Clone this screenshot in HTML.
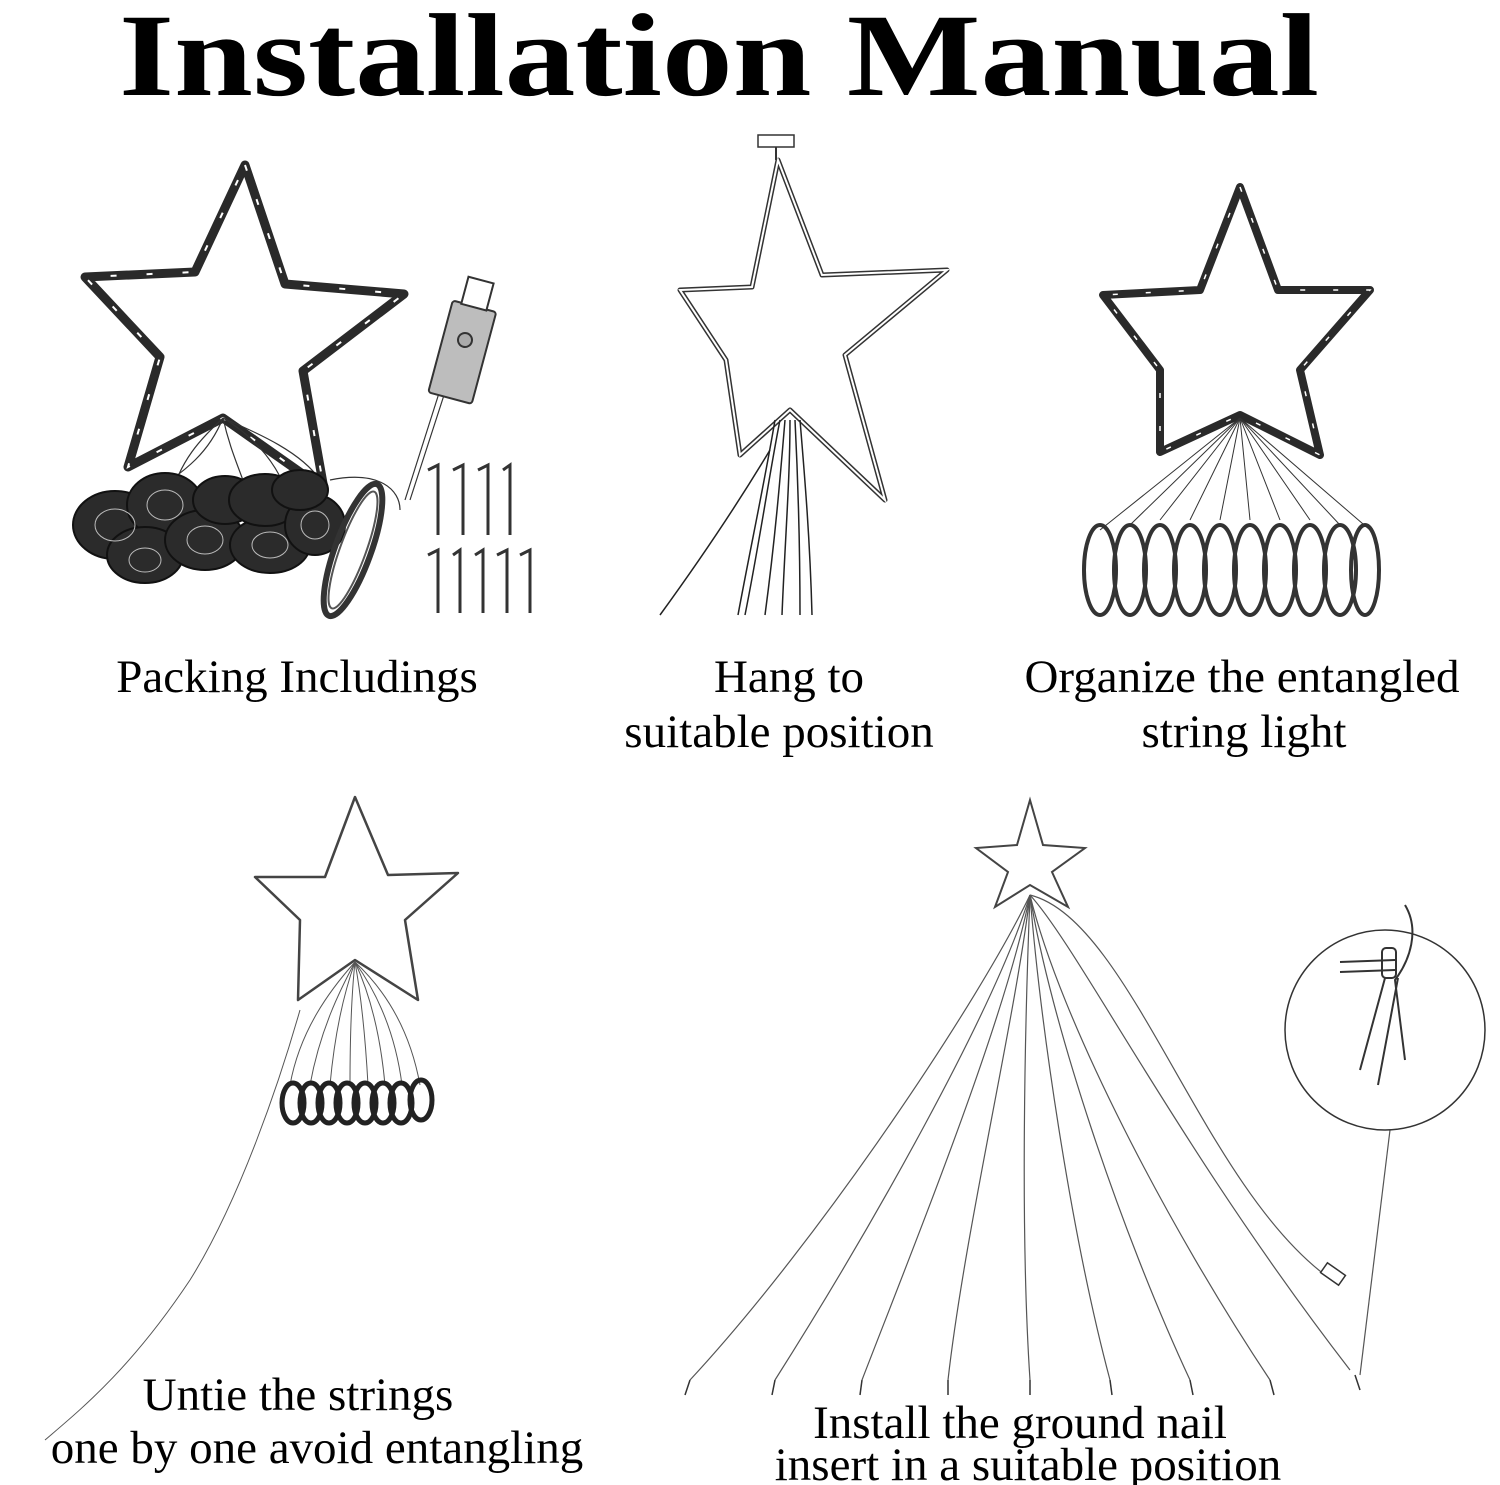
<!DOCTYPE html>
<html><head><meta charset="utf-8"><style>
html,body{margin:0;padding:0;background:#fff}
svg{display:block}
.t{font-family:"Liberation Serif",serif;fill:#000}
</style></head><body>
<svg width="1500" height="1485" viewBox="0 0 1500 1485" xmlns="http://www.w3.org/2000/svg">
<text class="t" x="719" y="95" font-size="118" font-weight="bold" text-anchor="middle" textLength="1200" lengthAdjust="spacingAndGlyphs">Installation Manual</text>

<!-- Star 1 -->
<polygon points="245,165 285,284 404,294 303,371 324,489 223,418 128,467 160,357 85,277 195,272" fill="none" stroke="#2a2a2a" stroke-width="9" stroke-linejoin="round"/>
<polygon points="245,165 285,284 404,294 303,371 324,489 223,418 128,467 160,357 85,277 195,272" fill="none" stroke="#fff" stroke-width="2" stroke-dasharray="6 30"/>
<g fill="none" stroke="#333" stroke-width="1.2">
<path d="M223,418 C200,440 180,460 170,500"/><path d="M223,418 C230,450 240,470 250,500"/><path d="M223,418 C260,440 280,470 290,500"/><path d="M223,418 C210,450 190,470 140,500"/><path d="M223,418 C250,430 300,450 320,480"/>
<path d="M330,480 C380,470 400,490 400,510"/>
<path d="M405,500 L440,390"/><path d="M410,500 L445,392"/>
</g>
<g fill="#2b2b2b" stroke="#111" stroke-width="2">
<ellipse cx="115" cy="525" rx="42" ry="34"/>
<ellipse cx="165" cy="505" rx="38" ry="32"/>
<ellipse cx="145" cy="555" rx="38" ry="28"/>
<ellipse cx="205" cy="540" rx="40" ry="30"/>
<ellipse cx="225" cy="500" rx="32" ry="24"/>
<ellipse cx="270" cy="545" rx="40" ry="28"/>
<ellipse cx="265" cy="500" rx="36" ry="26"/>
<ellipse cx="315" cy="525" rx="30" ry="30"/>
<ellipse cx="300" cy="490" rx="28" ry="20"/>
</g>
<g fill="none" stroke="#bbb" stroke-width="1">
<ellipse cx="115" cy="525" rx="20" ry="16"/><ellipse cx="165" cy="505" rx="18" ry="15"/><ellipse cx="205" cy="540" rx="18" ry="14"/><ellipse cx="270" cy="545" rx="18" ry="13"/><ellipse cx="315" cy="525" rx="14" ry="14"/><ellipse cx="145" cy="560" rx="16" ry="12"/>
</g>
<ellipse cx="353" cy="550" rx="18" ry="70" transform="rotate(20 353 550)" fill="none" stroke="#333" stroke-width="6"/>
<ellipse cx="353" cy="550" rx="13" ry="62" transform="rotate(20 353 550)" fill="none" stroke="#555" stroke-width="2"/>
<g transform="rotate(15 465 340)">
<rect x="443" y="305" width="45" height="95" rx="3" fill="#bdbdbd" stroke="#333" stroke-width="2"/>
<rect x="452" y="278" width="26" height="28" fill="#fff" stroke="#333" stroke-width="2"/>
<circle cx="465" cy="340" r="7" fill="#aaa" stroke="#333" stroke-width="2"/>
</g>
<g fill="none" stroke="#333" stroke-width="3">
<path d="M428,470 L438,465 L438,535"/><path d="M453,470 L463,465 L463,535"/><path d="M478,470 L488,465 L488,535"/><path d="M503,470 L510,465 L510,535"/>
<path d="M428,555 L438,550 L438,613"/><path d="M453,555 L460,550 L460,613"/><path d="M475,555 L483,550 L483,613"/><path d="M497,555 L507,550 L507,613"/><path d="M520,555 L530,550 L530,613"/>
</g>

<!-- Star 2 -->
<rect x="758" y="135" width="36" height="12" fill="#fff" stroke="#333" stroke-width="1.5"/>
<path d="M776,147 L776,160" stroke="#333" stroke-width="2"/>
<polygon points="778,160 822,275 947,270 845,355 885,500 790,410 740,455 726,360 680,290 752,287" fill="none" stroke="#333" stroke-width="5" stroke-linejoin="round"/>
<polygon points="778,160 822,275 947,270 845,355 885,500 790,410 740,455 726,360 680,290 752,287" fill="none" stroke="#fff" stroke-width="2"/>
<g fill="none" stroke="#222" stroke-width="1.5">
<path d="M780,420 C770,470 760,540 745,615"/><path d="M785,420 C780,480 775,540 765,615"/><path d="M790,420 C790,480 785,540 782,615"/><path d="M795,420 C798,480 800,540 800,615"/><path d="M800,420 C805,480 810,540 812,615"/><path d="M775,420 C765,480 750,550 738,615"/><path d="M770,450 C740,500 700,560 660,615"/>
</g>

<!-- Star 3 -->
<polygon points="1240,187 1278,290 1370,290 1300,370 1320,455 1240,415 1160,452 1160,370 1103,295 1200,290" fill="none" stroke="#2a2a2a" stroke-width="8" stroke-linejoin="round"/>
<polygon points="1240,187 1278,290 1370,290 1300,370 1320,455 1240,415 1160,452 1160,370 1103,295 1200,290" fill="none" stroke="#fff" stroke-width="1.5" stroke-dasharray="5 28"/>
<g fill="none" stroke="#333" stroke-width="1">
<path d="M1240,418 L1100,530"/><path d="M1240,418 L1130,525"/><path d="M1240,418 L1160,520"/><path d="M1240,418 L1190,520"/><path d="M1240,418 L1220,520"/><path d="M1240,418 L1250,520"/><path d="M1240,418 L1280,520"/><path d="M1240,418 L1310,520"/><path d="M1240,418 L1340,525"/><path d="M1240,418 L1370,530"/>
</g>
<g fill="none" stroke="#333" stroke-width="4">
<ellipse cx="1100" cy="570" rx="16" ry="45"/><ellipse cx="1130" cy="570" rx="16" ry="45"/><ellipse cx="1160" cy="570" rx="16" ry="45"/><ellipse cx="1190" cy="570" rx="16" ry="45"/><ellipse cx="1220" cy="570" rx="16" ry="45"/><ellipse cx="1250" cy="570" rx="16" ry="45"/><ellipse cx="1280" cy="570" rx="16" ry="45"/><ellipse cx="1310" cy="570" rx="16" ry="45"/><ellipse cx="1340" cy="570" rx="16" ry="45"/><ellipse cx="1365" cy="570" rx="14" ry="45"/>
</g>

<text class="t" x="297" y="692" font-size="47" text-anchor="middle">Packing Includings</text>
<text class="t" x="789" y="692" font-size="47" text-anchor="middle">Hang to</text>
<text class="t" x="779" y="747" font-size="47" text-anchor="middle">suitable position</text>
<text class="t" x="1242" y="692" font-size="47" text-anchor="middle">Organize the entangled</text>
<text class="t" x="1244" y="747" font-size="47" text-anchor="middle">string light</text>

<!-- Star 4 -->
<polygon points="355,797 388,875 458,873 405,920 418,1000 355,960 298,1000 300,920 255,877 325,877" fill="none" stroke="#444" stroke-width="2.5" stroke-linejoin="round"/>
<g fill="none" stroke="#555" stroke-width="1">
<path d="M355,962 C330,990 300,1030 290,1085"/><path d="M355,962 C340,990 320,1030 310,1085"/><path d="M355,962 C345,990 335,1030 330,1085"/><path d="M355,962 C352,990 350,1030 350,1085"/><path d="M355,962 C360,990 365,1030 368,1085"/><path d="M355,962 C368,990 380,1030 385,1085"/><path d="M355,962 C375,990 395,1030 402,1085"/><path d="M355,962 C385,990 410,1030 420,1085"/>
<path d="M300,1010 C280,1080 240,1200 190,1280 C130,1370 80,1410 45,1440"/>
</g>
<g fill="none" stroke="#222" stroke-width="5">
<ellipse cx="293" cy="1103" rx="11" ry="20"/><ellipse cx="311" cy="1103" rx="11" ry="20"/><ellipse cx="329" cy="1103" rx="11" ry="20"/><ellipse cx="347" cy="1103" rx="11" ry="20"/><ellipse cx="365" cy="1103" rx="11" ry="20"/><ellipse cx="383" cy="1103" rx="11" ry="20"/><ellipse cx="401" cy="1103" rx="11" ry="20"/><ellipse cx="421" cy="1100" rx="11" ry="20"/>
</g>

<!-- Star 5 & tree -->
<polygon points="1030,800 1043,845 1085,848 1052,872 1068,907 1030,885 995,907 1008,872 976,848 1017,845" fill="none" stroke="#444" stroke-width="2"/>
<g fill="none" stroke="#555" stroke-width="1.2">
<path d="M1030,895 C980,1000 820,1240 690,1380"/>
<path d="M1030,895 C995,1010 870,1230 775,1380"/>
<path d="M1030,895 C1005,1020 920,1230 862,1380"/>
<path d="M1030,895 C1015,1020 965,1230 948,1380"/>
<path d="M1030,895 C1025,1020 1020,1230 1030,1380"/>
<path d="M1030,895 C1040,1020 1070,1230 1110,1380"/>
<path d="M1030,895 C1050,1020 1120,1230 1190,1380"/>
<path d="M1030,895 C1060,1020 1170,1230 1270,1380"/>
<path d="M1030,895 C1080,950 1180,1150 1350,1370"/>
<path d="M1030,895 C1130,920 1200,1180 1325,1275"/>
<path d="M1360,1375 L1390,1130"/>
</g>
<g fill="none" stroke="#333" stroke-width="1.5">
<path d="M690,1380 l-5,15"/><path d="M775,1380 l-3,15"/><path d="M862,1380 l-2,15"/><path d="M948,1380 l0,15"/><path d="M1030,1380 l0,15"/><path d="M1110,1380 l2,15"/><path d="M1190,1380 l3,15"/><path d="M1270,1380 l4,15"/><path d="M1355,1375 l5,15"/>
</g>
<rect x="1322" y="1268" width="22" height="12" fill="#fff" stroke="#333" stroke-width="1.5" transform="rotate(35 1333 1274)"/>
<circle cx="1385" cy="1030" r="100" fill="none" stroke="#333" stroke-width="1.5"/>
<g fill="none" stroke="#333" stroke-width="2">
<path d="M1340,962 L1395,960 M1340,972 L1395,970"/>
<rect x="1382" y="948" width="14" height="30" rx="4"/>
<path d="M1385,978 L1360,1070 M1398,978 L1378,1085"/>
<path d="M1405,905 C1420,930 1410,960 1395,980 L1405,1060"/>
</g>

<text class="t" x="298" y="1410" font-size="47" text-anchor="middle">Untie the strings</text>
<text class="t" x="317" y="1463" font-size="47" text-anchor="middle">one by one avoid entangling</text>
<text class="t" x="1020" y="1438" font-size="47" text-anchor="middle">Install the ground nail</text>
<text class="t" x="1028" y="1480" font-size="47" text-anchor="middle">insert in a suitable position</text>
</svg>
</body></html>
